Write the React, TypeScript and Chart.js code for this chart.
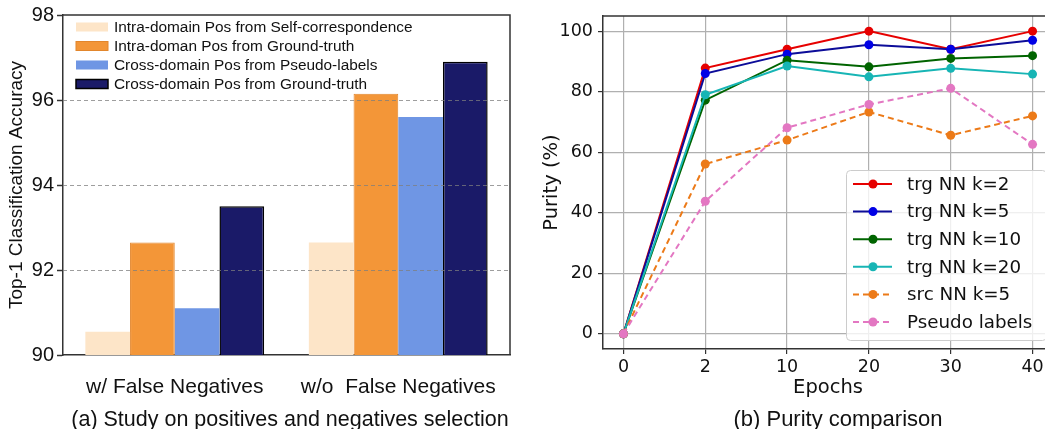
import React, { useEffect, useRef } from 'react';
import { Chart, registerables } from 'chart.js';

Chart.register(...registerables);

// ---------- data: left panel (bar chart) ----------
const groupLabels = ['w/ False Negatives', 'w/o  False Negatives'];
const barSeriesNames = [
  'Intra-domain Pos from Self-correspondence',
  'Intra-doman Pos from Ground-truth',
  'Cross-domain Pos from Pseudo-labels',
  'Cross-domain Pos from Ground-truth',
];
const selfCorrespondence = [90.55, 92.65];
const intraGroundTruth = [92.65, 96.15];
const crossPseudo = [91.1, 95.6];
const crossGroundTruth = [93.5, 96.9];
const accuracyTicks = [90, 92, 94, 96, 98];
const accuracyGridLines = [92, 94, 96];

// ---------- data: right panel (line chart) ----------
const epochLabels = ['0', '2', '10', '20', '30', '40'];
const lineSeriesNames = ['trg NN k=2', 'trg NN k=5', 'trg NN k=10', 'trg NN k=20', 'src NN k=5', 'Pseudo labels'];
const trgK2 = [0, 87.8, 94.0, 100, 94.0, 100];
const trgK5 = [0, 86.0, 92.4, 95.5, 94.0, 97.0];
const trgK10 = [0, 77.2, 90.4, 88.2, 91.0, 91.9];
const trgK20 = [0, 79.0, 88.5, 84.9, 87.7, 85.8];
const srcK5 = [0, 56.1, 64.0, 73.3, 65.6, 72.0];
const pseudoLabels = [0, 43.8, 68.1, 75.8, 81.1, 62.6];
const purityTicks = [0, 20, 40, 60, 80, 100];

// ---------- styles ----------
const leftFont = "'Liberation Sans', Arial, sans-serif";
const rightFont = "'DejaVu Sans', sans-serif";
const barStyles = [
  { fill: '#fde5c8', border: '#fde5c8', width: 0 },
  { fill: '#f39638', border: '#e2862c', width: 1 },
  { fill: '#6f96e4', border: '#6f96e4', width: 0 },
  { fill: '#1a1a68', border: '#000000', width: 1.5 },
];
const lineStyles = [
  { line: '#e60000', point: '#e60000', dash: [] as number[] },
  { line: '#0c0c99', point: '#0000e6', dash: [] as number[] },
  { line: '#006400', point: '#006400', dash: [] as number[] },
  { line: '#17b5b5', point: '#17b5b5', dash: [] as number[] },
  { line: '#ec7a18', point: '#ec7a18', dash: [6, 4] },
  { line: '#e377c2', point: '#e377c2', dash: [6, 4] },
];

const leftDecor = {
  id: 'leftDecor',
  afterDatasetsDraw(chart: any) {
    const { ctx, chartArea } = chart;
    const y = chart.scales.y;
    ctx.save();
    ctx.setLineDash([4, 3]);
    ctx.strokeStyle = 'rgba(125,125,125,0.75)';
    ctx.lineWidth = 1;
    accuracyGridLines.forEach((v) => {
      const py = Math.round(y.getPixelForValue(v)) + 0.5;
      ctx.beginPath();
      ctx.moveTo(chartArea.left, py);
      ctx.lineTo(chartArea.right, py);
      ctx.stroke();
    });
    ctx.setLineDash([]);
    ctx.strokeStyle = '#333';
    ctx.lineWidth = 1.5;
    ctx.beginPath();
    ctx.moveTo(chartArea.left, chartArea.top);
    ctx.lineTo(chartArea.right, chartArea.top);
    ctx.lineTo(chartArea.right, chartArea.bottom);
    ctx.stroke();
    ctx.restore();
  },
  afterDraw(chart: any) {
    const { ctx, chartArea } = chart;
    ctx.save();
    ctx.font = `15.4px ${leftFont}`;
    ctx.textBaseline = 'middle';
    ctx.textAlign = 'left';
    barSeriesNames.forEach((name, i) => {
      const cy = chartArea.top + 12 + i * 19;
      const bx = chartArea.left + 13;
      const st = barStyles[i];
      ctx.fillStyle = st.fill;
      ctx.fillRect(bx, cy - 4.5, 32, 9);
      if (st.width > 0) {
        ctx.strokeStyle = st.border;
        ctx.lineWidth = st.width;
        ctx.strokeRect(bx, cy - 4.5, 32, 9);
      }
      ctx.fillStyle = '#111';
      ctx.fillText(name, chartArea.left + 51, cy + 0.5);
    });
    ctx.restore();
  },
};

const rightDecor = {
  id: 'rightDecor',
  afterDatasetsDraw(chart: any) {
    const { ctx, chartArea } = chart;
    ctx.save();
    ctx.strokeStyle = '#333';
    ctx.lineWidth = 1.5;
    ctx.beginPath();
    ctx.moveTo(chartArea.left, chartArea.top);
    ctx.lineTo(chartArea.right, chartArea.top);
    ctx.lineTo(chartArea.right, chartArea.bottom);
    ctx.stroke();
    ctx.restore();
  },
  afterDraw(chart: any) {
    const { ctx, chartArea } = chart;
    const bx = chartArea.left + 243;
    const by = chartArea.top + 154;
    const bw = 200;
    const bh = 170;
    ctx.save();
    ctx.beginPath();
    (ctx as any).roundRect(bx + 0.5, by + 0.5, bw, bh, 4);
    ctx.fillStyle = 'rgba(255,255,255,0.8)';
    ctx.fill();
    ctx.strokeStyle = '#cccccc';
    ctx.lineWidth = 1;
    ctx.stroke();
    ctx.font = `18.3px ${rightFont}`;
    ctx.textBaseline = 'middle';
    ctx.textAlign = 'left';
    lineSeriesNames.forEach((name, i) => {
      const cy = chartArea.top + 168 + i * 27.6;
      const st = lineStyles[i];
      ctx.strokeStyle = st.line;
      ctx.lineWidth = 2;
      ctx.setLineDash(st.dash);
      ctx.beginPath();
      ctx.moveTo(chartArea.left + 250, cy);
      ctx.lineTo(chartArea.left + 289, cy);
      ctx.stroke();
      ctx.setLineDash([]);
      ctx.fillStyle = st.point;
      ctx.beginPath();
      ctx.arc(chartArea.left + 270, cy, 4.5, 0, Math.PI * 2);
      ctx.fill();
      ctx.fillStyle = '#111';
      ctx.fillText(name, chartArea.left + 304, cy + 1);
    });
    ctx.restore();
  },
};

function BarPanel() {
  const ref = useRef<HTMLCanvasElement>(null);
  useEffect(() => {
    const seriesValues = [selfCorrespondence, intraGroundTruth, crossPseudo, crossGroundTruth];
    const chart = new Chart(ref.current as HTMLCanvasElement, {
      type: 'bar',
      data: {
        labels: groupLabels,
        datasets: seriesValues.map((vals, i) => ({
          label: barSeriesNames[i],
          data: vals,
          backgroundColor: barStyles[i].fill,
          borderColor: barStyles[i].border,
          borderWidth: barStyles[i].width,
          borderSkipped: false,
          categoryPercentage: 0.8,
          barPercentage: 1.0,
        })),
      },
      options: {
        responsive: false,
        animation: false,
        layout: { padding: { top: 15, right: 20, left: 0, bottom: 0 } },
        plugins: { legend: { display: false }, tooltip: { enabled: false } },
        scales: {
          x: {
            grid: { display: false, drawTicks: false },
            border: { color: '#333', width: 1.5 },
            ticks: { font: { family: leftFont, size: 21 }, color: '#111', padding: 20, maxRotation: 0 },
            afterFit: (s: any) => { s.height = 74; },
          },
          y: {
            min: 90,
            max: 98,
            afterBuildTicks: (s: any) => { s.ticks = accuracyTicks.map((v) => ({ value: v })); },
            grid: { drawOnChartArea: false, drawTicks: true, tickLength: 6, tickColor: '#333', tickWidth: 1.5 },
            border: { color: '#333', width: 1.5 },
            ticks: { font: { family: leftFont, size: 20 }, color: '#111', padding: 3 },
            title: {
              display: true,
              text: 'Top-1 Classification Accuracy',
              font: { family: leftFont, size: 19 },
              color: '#111',
              padding: { top: 5, bottom: 0 },
            },
            afterFit: (s: any) => { s.width = 63; },
          },
        },
      } as any,
      plugins: [leftDecor],
    });
    return () => chart.destroy();
  }, []);
  return (
    <canvas
      ref={ref}
      width={530}
      height={429}
      style={{ position: 'absolute', left: 0, top: 0, width: 530, height: 429 }}
    />
  );
}

function LinePanel() {
  const ref = useRef<HTMLCanvasElement>(null);
  useEffect(() => {
    const seriesValues = [trgK2, trgK5, trgK10, trgK20, srcK5, pseudoLabels];
    const chart = new Chart(ref.current as HTMLCanvasElement, {
      type: 'line',
      data: {
        datasets: seriesValues.map((vals, i) => ({
          label: lineSeriesNames[i],
          data: vals.map((v, j) => ({ x: j, y: v })),
          borderColor: lineStyles[i].line,
          backgroundColor: lineStyles[i].point,
          pointBackgroundColor: lineStyles[i].point,
          pointBorderColor: lineStyles[i].point,
          borderDash: lineStyles[i].dash,
          borderWidth: 2,
          pointRadius: 4.5,
          pointBorderWidth: 0,
          pointStyle: 'circle',
          tension: 0,
          fill: false,
          order: seriesValues.length - i,
        })),
      },
      options: {
        responsive: false,
        animation: false,
        layout: { padding: { top: 16, right: 7, left: 0, bottom: 0 } },
        plugins: { legend: { display: false }, tooltip: { enabled: false } },
        scales: {
          x: {
            type: 'linear',
            min: -0.25,
            max: 5.25,
            afterBuildTicks: (s: any) => { s.ticks = epochLabels.map((_, i) => ({ value: i })); },
            grid: { color: '#b0b0b0', lineWidth: 1.2, drawTicks: true, tickLength: 5, tickColor: '#333', tickWidth: 1.2 },
            border: { color: '#333', width: 1.5 },
            ticks: {
              font: { family: rightFont, size: 17.5 },
              color: '#111',
              padding: 2.5,
              autoSkip: false,
              maxRotation: 0,
              callback: (v: any) => epochLabels[v] ?? '',
            },
            title: {
              display: true,
              text: 'Epochs',
              font: { family: rightFont, size: 19.5 },
              color: '#111',
              padding: { top: 0, bottom: 29 },
            },
            afterFit: (s: any) => { s.height = 80; },
          },
          y: {
            min: -5,
            max: 105,
            afterBuildTicks: (s: any) => { s.ticks = purityTicks.map((v) => ({ value: v })); },
            grid: { color: '#b0b0b0', lineWidth: 1.2, drawTicks: true, tickLength: 5, tickColor: '#333', tickWidth: 1.2 },
            border: { color: '#333', width: 1.5 },
            ticks: { font: { family: rightFont, size: 17.5 }, color: '#111', padding: 5 },
            title: {
              display: true,
              text: 'Purity (%)',
              font: { family: rightFont, size: 19.5 },
              color: '#111',
              padding: { top: 0, bottom: 0 },
            },
            afterFit: (s: any) => { s.width = 63; },
          },
        },
      } as any,
      plugins: [rightDecor],
    });
    return () => chart.destroy();
  }, []);
  return (
    <canvas
      ref={ref}
      width={520}
      height={429}
      style={{ position: 'absolute', left: 540, top: 0, width: 520, height: 429 }}
    />
  );
}

const captionStyle: React.CSSProperties = {
  position: 'absolute',
  top: 408,
  fontFamily: leftFont,
  fontSize: 21.5,
  lineHeight: '22px',
  color: '#111',
  whiteSpace: 'pre',
  transform: 'translateX(-50%)',
};

export default function App() {
  return (
    <div
      style={{
        position: 'fixed',
        left: 0,
        top: 0,
        width: 1045,
        height: 429,
        overflow: 'hidden',
        background: '#fff',
      }}
    >
      <BarPanel />
      <LinePanel />
      <div style={{ ...captionStyle, left: 290 }}>(a) Study on positives and negatives selection</div>
      <div style={{ ...captionStyle, left: 838, fontSize: 22 }}>(b) Purity comparison</div>
    </div>
  );
}
